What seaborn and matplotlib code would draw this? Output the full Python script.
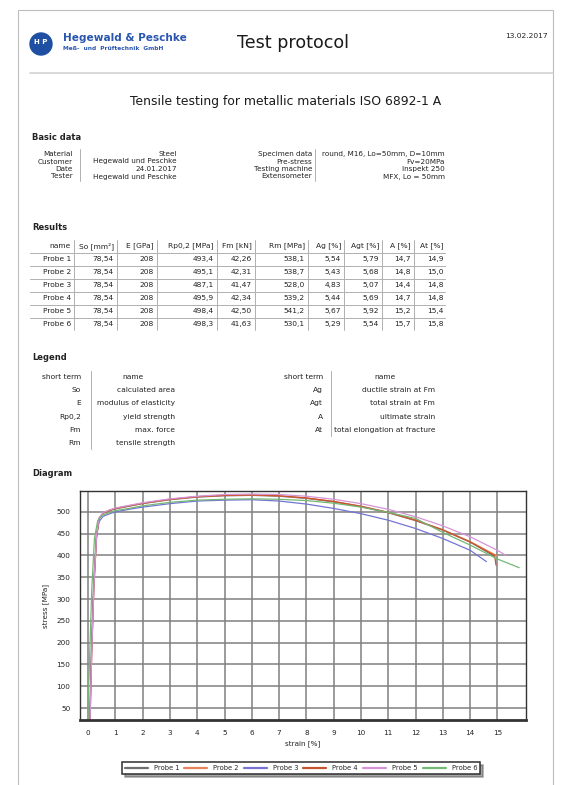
import pandas as pd
import matplotlib
matplotlib.use("Agg")
import matplotlib.pyplot as plt
import seaborn as sns
from matplotlib.lines import Line2D
from matplotlib.patches import Ellipse, Rectangle


W, H = 564, 785

# --- data read from the protocol -------------------------------------------

PROBES = ["Probe 1", "Probe 2", "Probe 3", "Probe 4", "Probe 5", "Probe 6"]
PROBE_COLORS = ["#6e6e6e", "#e8845c", "#7474d4", "#c8542e", "#d594d8", "#74b874"]

BASIC_LEFT_LABELS = ["Material", "Customer", "Date", "Tester"]
BASIC_LEFT_VALUES = ["Steel", "Hegewald und Peschke", "24.01.2017", "Hegewald und Peschke"]
BASIC_RIGHT_LABELS = ["Specimen data", "Pre-stress", "Testing machine", "Extensometer"]
BASIC_RIGHT_VALUES = ["round, M16, Lo=50mm, D=10mm", "Fv=20MPa", "Inspekt 250", "MFX, Lo = 50mm"]

RESULT_HEADERS = ["name", "So [mm²]", "E [GPa]", "Rp0,2 [MPa]", "Fm [kN]",
                  "Rm [MPa]", "Ag [%]", "Agt [%]", "A [%]", "At [%]"]
so_mm2 = ["78,54", "78,54", "78,54", "78,54", "78,54", "78,54"]
e_gpa = ["208", "208", "208", "208", "208", "208"]
rp02_mpa = ["493,4", "495,1", "487,1", "495,9", "498,4", "498,3"]
fm_kn = ["42,26", "42,31", "41,47", "42,34", "42,50", "41,63"]
rm_mpa = ["538,1", "538,7", "528,0", "539,2", "541,2", "530,1"]
ag_pct = ["5,54", "5,43", "4,83", "5,44", "5,67", "5,29"]
agt_pct = ["5,79", "5,68", "5,07", "5,69", "5,92", "5,54"]
a_pct = ["14,7", "14,8", "14,4", "14,7", "15,2", "15,7"]
at_pct = ["14,9", "15,0", "14,8", "14,8", "15,4", "15,8"]

LEGEND_LEFT_TERMS = ["So", "E", "Rp0,2", "Fm", "Rm"]
LEGEND_LEFT_NAMES = ["calculated area", "modulus of elasticity", "yield strength",
                     "max. force", "tensile strength"]
LEGEND_RIGHT_TERMS = ["Ag", "Agt", "A", "At"]
LEGEND_RIGHT_NAMES = ["ductile strain at Fm", "total strain at Fm", "ultimate strain",
                      "total elongation at fracture"]

# stress-strain curves (strain in %, stress in MPa)
strain_p1 = [0.05, 0.12, 0.2, 0.3, 0.4, 0.55, 0.8, 1.0, 1.5, 2, 3, 4, 5, 6, 7, 8, 9, 10, 11, 12, 13, 14, 14.9]
stress_p1 = [0, 180, 330, 445, 485, 497, 503, 507, 513, 519, 528, 534, 537, 538, 536, 531, 523, 512, 498, 480, 458, 431, 398]

strain_p2 = [0.06, 0.13, 0.21, 0.31, 0.41, 0.56, 0.8, 1.0, 1.5, 2, 3, 4, 5, 6, 7, 8, 9, 10, 11, 12, 13, 14, 15.0]
stress_p2 = [0, 180, 330, 446, 486, 498, 504, 508, 514, 520, 529, 535, 538, 539, 537, 532, 524, 513, 499, 481, 459, 432, 399]

strain_p3 = [0.05, 0.12, 0.2, 0.3, 0.4, 0.55, 0.8, 1.0, 1.5, 2, 3, 4, 5, 6, 7, 8, 9, 10, 11, 12, 13, 14, 14.6]
stress_p3 = [0, 180, 330, 440, 478, 490, 496, 500, 506, 511, 519, 525, 527, 528, 525, 518, 508, 496, 481, 462, 439, 412, 386]

strain_p4 = [0.06, 0.13, 0.21, 0.31, 0.41, 0.56, 0.8, 1.0, 1.5, 2, 3, 4, 5, 6, 7, 8, 9, 10, 11, 12, 13, 14, 14.9, 14.95]
stress_p4 = [0, 180, 330, 446, 486, 498, 504, 508, 514, 520, 529, 535, 538, 539, 537, 532, 524, 513, 499, 481, 459, 431, 400, 378]

strain_p5 = [0.06, 0.13, 0.21, 0.31, 0.41, 0.56, 0.8, 1.0, 1.5, 2, 3, 4, 5, 6, 7, 8, 9, 10, 11, 12, 13, 14, 15.0, 15.3]
stress_p5 = [0, 180, 330, 448, 488, 499, 505, 509, 515, 521, 530, 536, 540, 541, 540, 536, 529, 519, 506, 489, 468, 443, 412, 401]

strain_p6 = [-0.03, 0.05, 0.13, 0.23, 0.35, 0.5, 0.8, 1.0, 1.5, 2, 3, 4, 5, 6, 7, 8, 9, 10, 11, 12, 13, 14, 15, 15.8]
stress_p6 = [0, 160, 320, 440, 480, 492, 499, 503, 508, 514, 522, 527, 529, 530, 529, 526, 520, 511, 499, 485, 453, 424, 392, 372]

STRAINS = [strain_p1, strain_p2, strain_p3, strain_p4, strain_p5, strain_p6]
STRESSES = [stress_p1, stress_p2, stress_p3, stress_p4, stress_p5, stress_p6]

# --- helpers ---------------------------------------------------------------

TEXT = "#222222"
SMALL = 5.4


def put(fig, x, y, s, size=SMALL, ha="left", weight="normal", color=TEXT, **kw):
    fig.text(x / W, 1 - y / H, s, fontsize=size, ha=ha, va="center",
             fontweight=weight, color=color, **kw)


def hline(fig, x0, x1, y, color="#b0b0b0", lw=0.7):
    fig.add_artist(Line2D([x0 / W, x1 / W], [1 - y / H, 1 - y / H],
                          transform=fig.transFigure, color=color, lw=lw))


def vline(fig, x, y0, y1, color="#b0b0b0", lw=0.7):
    fig.add_artist(Line2D([x / W, x / W], [1 - y0 / H, 1 - y1 / H],
                          transform=fig.transFigure, color=color, lw=lw))


sns.set_style("white")
plt.rcParams["font.family"] = ["DejaVu Sans"]

fig = plt.figure(figsize=(W / 100, H / 100), dpi=100)
fig.patch.set_facecolor("white")

# page frame
fig.add_artist(Rectangle((18 / W, 1 - 800 / H), (553 - 18) / W, (800 - 10) / H,
                         transform=fig.transFigure, fill=False,
                         edgecolor="#bdbdbd", lw=0.8))

# --- header -----------------------------------------------------------------

fig.add_artist(Ellipse((41 / W, 1 - 44 / H), 22 / W, 22 / H,
                       transform=fig.transFigure, color="#1f4fa3"))
put(fig, 41, 42, "H P", size=5, ha="center", weight="bold", color="white")
put(fig, 63, 38, "Hegewald & Peschke", size=7.6, weight="bold", color="#2a56b0")
put(fig, 63, 48, "Meß-  und  Prüftechnik  GmbH", size=4.2, weight="bold", color="#2a56b0")
put(fig, 293, 43, "Test protocol", size=12.6, ha="center", color="#1a1a1a")
put(fig, 548, 36, "13.02.2017", size=5.4, ha="right")
hline(fig, 30, 553, 73, color="#d2d2d2", lw=1.2)

put(fig, 286, 102, "Tensile testing for metallic materials ISO 6892-1 A",
    size=8.9, ha="center", color="#1a1a1a")

# --- basic data -------------------------------------------------------------

put(fig, 32, 137, "Basic data", size=6, weight="bold")
basic_rows = [154, 161.5, 169, 176.5]
for y, lab, val in zip(basic_rows, BASIC_LEFT_LABELS, BASIC_LEFT_VALUES):
    put(fig, 73, y, lab, size=5.2, ha="right")
    put(fig, 177, y, val, size=5.2, ha="right")
for y, lab, val in zip(basic_rows, BASIC_RIGHT_LABELS, BASIC_RIGHT_VALUES):
    put(fig, 312, y, lab, size=5.2, ha="right")
    put(fig, 445, y, val, size=5.2, ha="right")
vline(fig, 80, 149, 181)
vline(fig, 315, 149, 181)

# --- results table ----------------------------------------------------------

put(fig, 32, 227, "Results", size=6, weight="bold")
col_edges = [30, 74, 117, 157, 217, 255, 308, 344, 382, 414, 447]
header_y = 246
row_step = 13
columns = [PROBES, so_mm2, e_gpa, rp02_mpa, fm_kn, rm_mpa, ag_pct, agt_pct, a_pct, at_pct]
for j, head in enumerate(RESULT_HEADERS):
    put(fig, col_edges[j + 1] - 3, header_y, head, ha="right")
    for i, val in enumerate(columns[j]):
        put(fig, col_edges[j + 1] - 3, header_y + row_step * (i + 1), val, ha="right")
for i in range(len(PROBES)):
    hline(fig, 30, 445, header_y + row_step * i + 6.5)
for x in col_edges[1:-1]:
    vline(fig, x, header_y - 6, header_y + row_step * 6 + 6)

# --- legend table -----------------------------------------------------------

put(fig, 32, 357, "Legend", size=6, weight="bold")
leg_rows = [377, 390.2, 403.4, 416.6, 429.8, 443]
put(fig, 81, leg_rows[0], "short term", ha="right")
put(fig, 133, leg_rows[0], "name", ha="center")
for y, term, name in zip(leg_rows[1:], LEGEND_LEFT_TERMS, LEGEND_LEFT_NAMES):
    put(fig, 81, y, term, ha="right")
    put(fig, 175, y, name, ha="right")
put(fig, 323, leg_rows[0], "short term", ha="right")
put(fig, 385, leg_rows[0], "name", ha="center")
for y, term, name in zip(leg_rows[1:], LEGEND_RIGHT_TERMS, LEGEND_RIGHT_NAMES):
    put(fig, 323, y, term, ha="right")
    put(fig, 435, y, name, ha="right")
vline(fig, 91, 371, 449)
vline(fig, 331, 371, 436)

# --- diagram ----------------------------------------------------------------

put(fig, 32, 473, "Diagram", size=6, weight="bold")

curves = pd.concat(
    [pd.DataFrame({"strain": s, "stress": t, "probe": p})
     for s, t, p in zip(STRAINS, STRESSES, PROBES)],
    ignore_index=True,
)

ax = fig.add_axes([80 / W, 1 - 720 / H, (526 - 80) / W, (720 - 491) / H])
sns.lineplot(
    data=curves,
    x="strain",
    y="stress",
    hue="probe",
    hue_order=PROBES,
    palette=PROBE_COLORS,
    sort=False,
    estimator=None,
    linewidth=0.9,
    legend=False,
    ax=ax,
)

ax.set_xlim(-0.3, 16.05)
ax.set_ylim(22.5, 548)
ax.set_xticks(range(0, 16))
ax.set_yticks(range(50, 501, 50))
ax.grid(True, color="#808080", lw=1.1)
ax.set_axisbelow(True)
ax.tick_params(labelsize=5.2, length=0, pad=7, colors=TEXT)
for side, spine in ax.spines.items():
    spine.set_color("#333333")
    spine.set_linewidth(2.0 if side == "bottom" else 1.0)
ax.set_xlabel("strain [%]", fontsize=5.2, color=TEXT, labelpad=3)
ax.set_ylabel("stress [MPa]", fontsize=5.2, color=TEXT, labelpad=5)

handles = [Line2D([], [], color=c, lw=1.6) for c in PROBE_COLORS]
leg = fig.legend(
    handles,
    PROBES,
    loc="center",
    bbox_to_anchor=(301 / W, 1 - 768 / H),
    ncol=6,
    fontsize=4.9,
    handlelength=3.4,
    handletextpad=0.9,
    columnspacing=0.7,
    borderpad=0.4,
    frameon=True,
    fancybox=False,
    shadow=True,
)
leg.get_frame().set_edgecolor("#2e2e2e")
leg.get_frame().set_linewidth(1.1)

fig.savefig("out.png", dpi=100)
plt.close(fig)
